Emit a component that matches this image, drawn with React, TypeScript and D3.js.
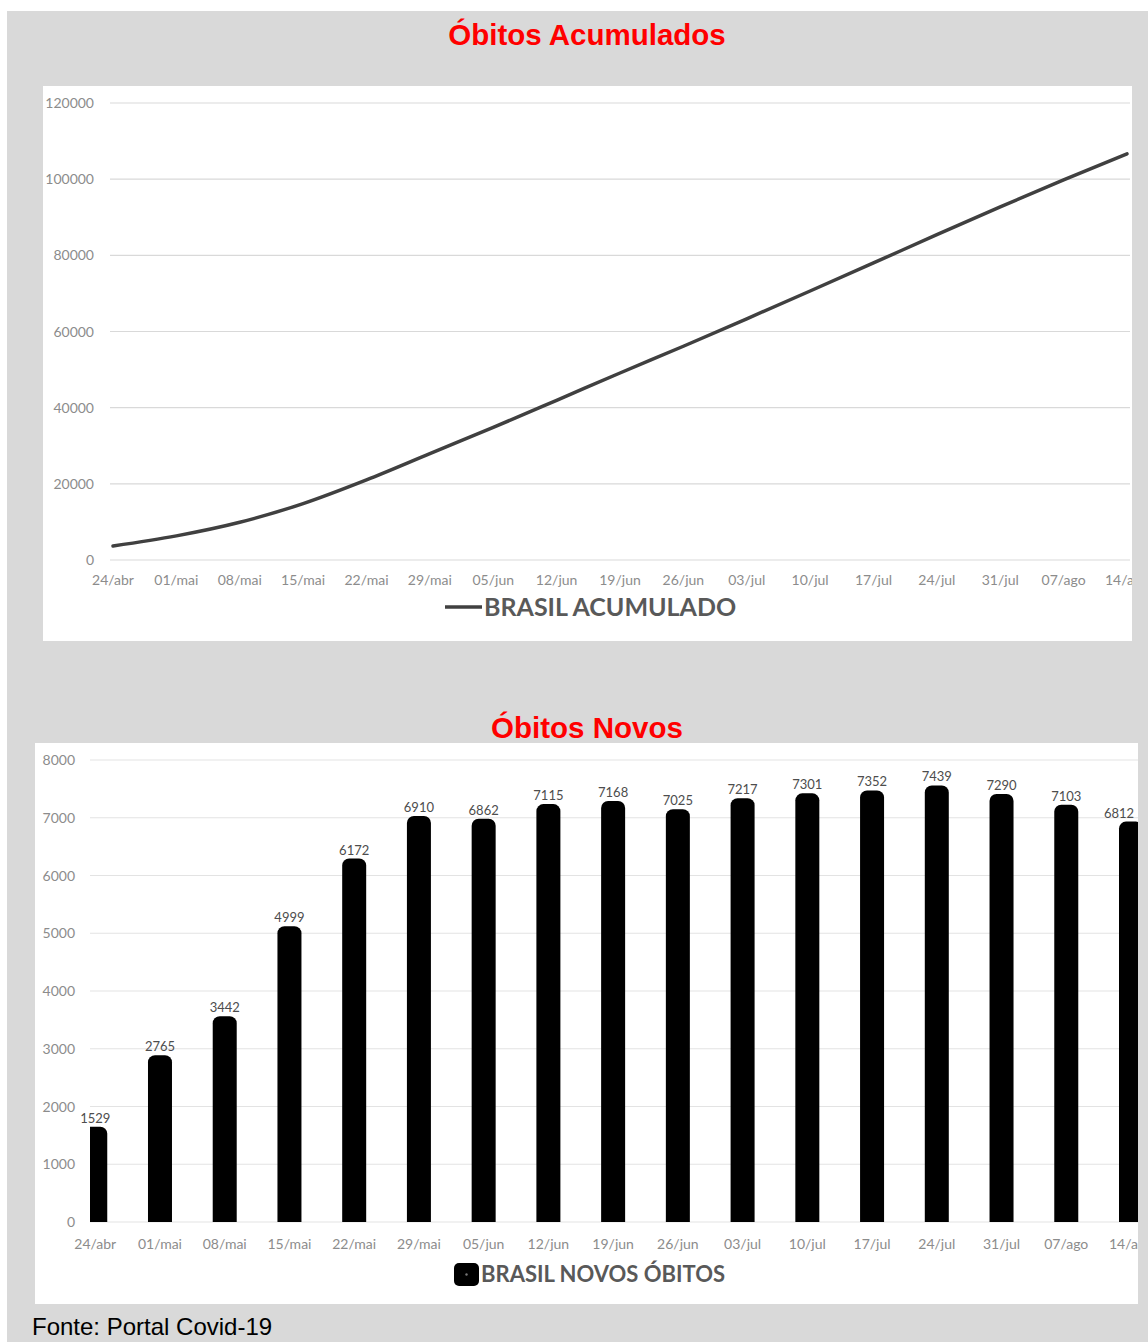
import React from "react";
import * as d3 from "d3";

// Weekly dates shared by both charts
const dates = [
  "24/abr", "01/mai", "08/mai", "15/mai", "22/mai", "29/mai", "05/jun", "12/jun",
  "19/jun", "26/jun", "03/jul", "10/jul", "17/jul", "24/jul", "31/jul", "07/ago", "14/ago",
];

// Cumulative deaths (line)
const acumulado = [
  3670, 6330, 9900, 14820, 21050, 27950, 34820, 41930,
  49100, 56130, 63340, 70640, 78000, 85440, 92730, 99830, 106640,
];

// New deaths per week (bars)
const novos = [
  1529, 2765, 3442, 4999, 6172, 6910, 6862, 7115,
  7168, 7025, 7217, 7301, 7352, 7439, 7290, 7103, 6812,
];

const ticksAcumulado = [0, 20000, 40000, 60000, 80000, 100000, 120000];
const ticksNovos = [0, 1000, 2000, 3000, 4000, 5000, 6000, 7000, 8000];

const W = 1148;
const H = 1342;
const GRAY_BG = "#d9d9d9";
const TICK_FONT = "Lato, 'Open Sans', sans-serif";
const TITLE_FONT = "'Liberation Sans', Arial, sans-serif";

export default function App() {
  // ---- top chart: cumulative line ----
  const top = { left: 43, right: 1132, top: 86, bottom: 641 };
  const xTop = d3.scalePoint<string>().domain(dates).range([113, 1127]);
  const yTop = d3.scaleLinear().domain([0, 120000]).range([560, 103]);
  const line = d3
    .line<number>()
    .x((_, i) => xTop(dates[i]) as number)
    .y((d) => yTop(d))
    .curve(d3.curveMonotoneX);

  // ---- bottom chart: weekly bars ----
  const bot = { left: 35, right: 1138, top: 743, bottom: 1304 };
  const xBot = d3.scalePoint<string>().domain(dates).range([95.25, 1131]);
  const yBot = d3.scaleLinear().domain([0, 8000]).range([1222, 760]);
  const barInner = 10;
  const barStroke = 14;
  const labelHalf = 16; // half width of a 4-digit value label

  return (
    <svg
      width={W}
      height={H}
      style={{ position: "absolute", left: 0, top: 0, display: "block" }}
    >
      <defs>
        <clipPath id="clipTop">
          <rect x={top.left} y={top.top} width={top.right - top.left} height={top.bottom - top.top} />
        </clipPath>
        <clipPath id="clipBars">
          <rect x={90} y={bot.top} width={bot.right - 90} height={yBot(0) - bot.top} />
        </clipPath>
        <clipPath id="clipBot">
          <rect x={bot.left} y={bot.top} width={bot.right - bot.left} height={bot.bottom - bot.top} />
        </clipPath>
      </defs>

      <rect x={0} y={0} width={W} height={H} fill="#ffffff" />
      <rect x={7} y={11} width={W - 7} height={H - 11} fill={GRAY_BG} />

      {/* Top title */}
      <text
        x={587}
        y={45}
        textAnchor="middle"
        fontFamily={TITLE_FONT}
        fontWeight="bold"
        fontSize={29.5}
        fill="#ff0000"
      >
        Óbitos Acumulados
      </text>

      {/* Top panel */}
      <rect x={top.left} y={top.top} width={top.right - top.left} height={top.bottom - top.top} fill="#ffffff" />
      <g clipPath="url(#clipTop)">
        {ticksAcumulado.map((t) => (
          <g key={t}>
            <line x1={110} x2={1130} y1={yTop(t)} y2={yTop(t)} stroke="#d9d9d9" strokeWidth={1.2} />
            <text
              x={94}
              y={yTop(t) + 5}
              textAnchor="end"
              fontFamily={TICK_FONT}
              fontSize={14}
              fill="#8c8c8c"
            >
              {t}
            </text>
          </g>
        ))}
        {dates.map((d) => (
          <text
            key={d}
            x={xTop(d)}
            y={585}
            textAnchor="middle"
            fontFamily={TICK_FONT}
            fontSize={14}
            fill="#8c8c8c"
          >
            {d}
          </text>
        ))}
        <path d={line(acumulado) || ""} fill="none" stroke="#404040" strokeWidth={3.5} strokeLinecap="round" />
      </g>

      {/* Top legend */}
      <line x1={445} x2={482} y1={607} y2={607} stroke="#404040" strokeWidth={3.5} />
      <text x={484} y={616} fontFamily={TICK_FONT} fontWeight="bold" fontSize={25} fill="#595959">
        BRASIL ACUMULADO
      </text>

      {/* Bottom title */}
      <text
        x={587}
        y={738}
        textAnchor="middle"
        fontFamily={TITLE_FONT}
        fontWeight="bold"
        fontSize={29.5}
        fill="#ff0000"
      >
        Óbitos Novos
      </text>

      {/* Bottom panel */}
      <rect x={bot.left} y={bot.top} width={bot.right - bot.left} height={bot.bottom - bot.top} fill="#ffffff" />
      <g clipPath="url(#clipBot)">
        {ticksNovos.map((t) => (
          <g key={t}>
            <line x1={90} x2={1138} y1={yBot(t)} y2={yBot(t)} stroke="#e3e3e3" strokeWidth={1.2} />
            <text
              x={75}
              y={yBot(t) + 5}
              textAnchor="end"
              fontFamily={TICK_FONT}
              fontSize={14}
              fill="#8c8c8c"
            >
              {t}
            </text>
          </g>
        ))}
        <g clipPath="url(#clipBars)">
          {novos.map((v, i) => {
            const cx = xBot(dates[i]) as number;
            return (
              <rect
                key={dates[i]}
                x={cx - barInner / 2}
                y={yBot(v)}
                width={barInner}
                height={yBot(0) - yBot(v) + barStroke}
                fill="#000000"
                stroke="#000000"
                strokeWidth={barStroke}
                strokeLinejoin="round"
              />
            );
          })}
        </g>
        {novos.map((v, i) => {
          // keep value labels inside the plot area
          const cx = Math.min(xBot(dates[i]) as number, bot.right - 3 - labelHalf);
          return (
            <text
              key={"l" + dates[i]}
              x={cx}
              y={yBot(v) - 11}
              textAnchor="middle"
              fontFamily={TICK_FONT}
              fontSize={13}
              fill="#4d4d4d"
            >
              {v}
            </text>
          );
        })}
        {dates.map((d) => (
          <text
            key={"x" + d}
            x={xBot(d)}
            y={1249}
            textAnchor="middle"
            fontFamily={TICK_FONT}
            fontSize={14}
            fill="#8c8c8c"
          >
            {d}
          </text>
        ))}
      </g>

      {/* Bottom legend */}
      <rect x={454} y={1263} width={25} height={23} rx={5} fill="#000000" />
      <circle cx={466.5} cy={1274.5} r={1.2} fill="#777777" />
      <text x={481} y={1282} fontFamily={TICK_FONT} fontWeight="bold" fontSize={22} fill="#595959">
        BRASIL NOVOS ÓBITOS
      </text>

      {/* Source */}
      <text x={32} y={1335} fontFamily={TITLE_FONT} fontSize={24} fill="#000000">
        Fonte: Portal Covid-19
      </text>
    </svg>
  );
}
